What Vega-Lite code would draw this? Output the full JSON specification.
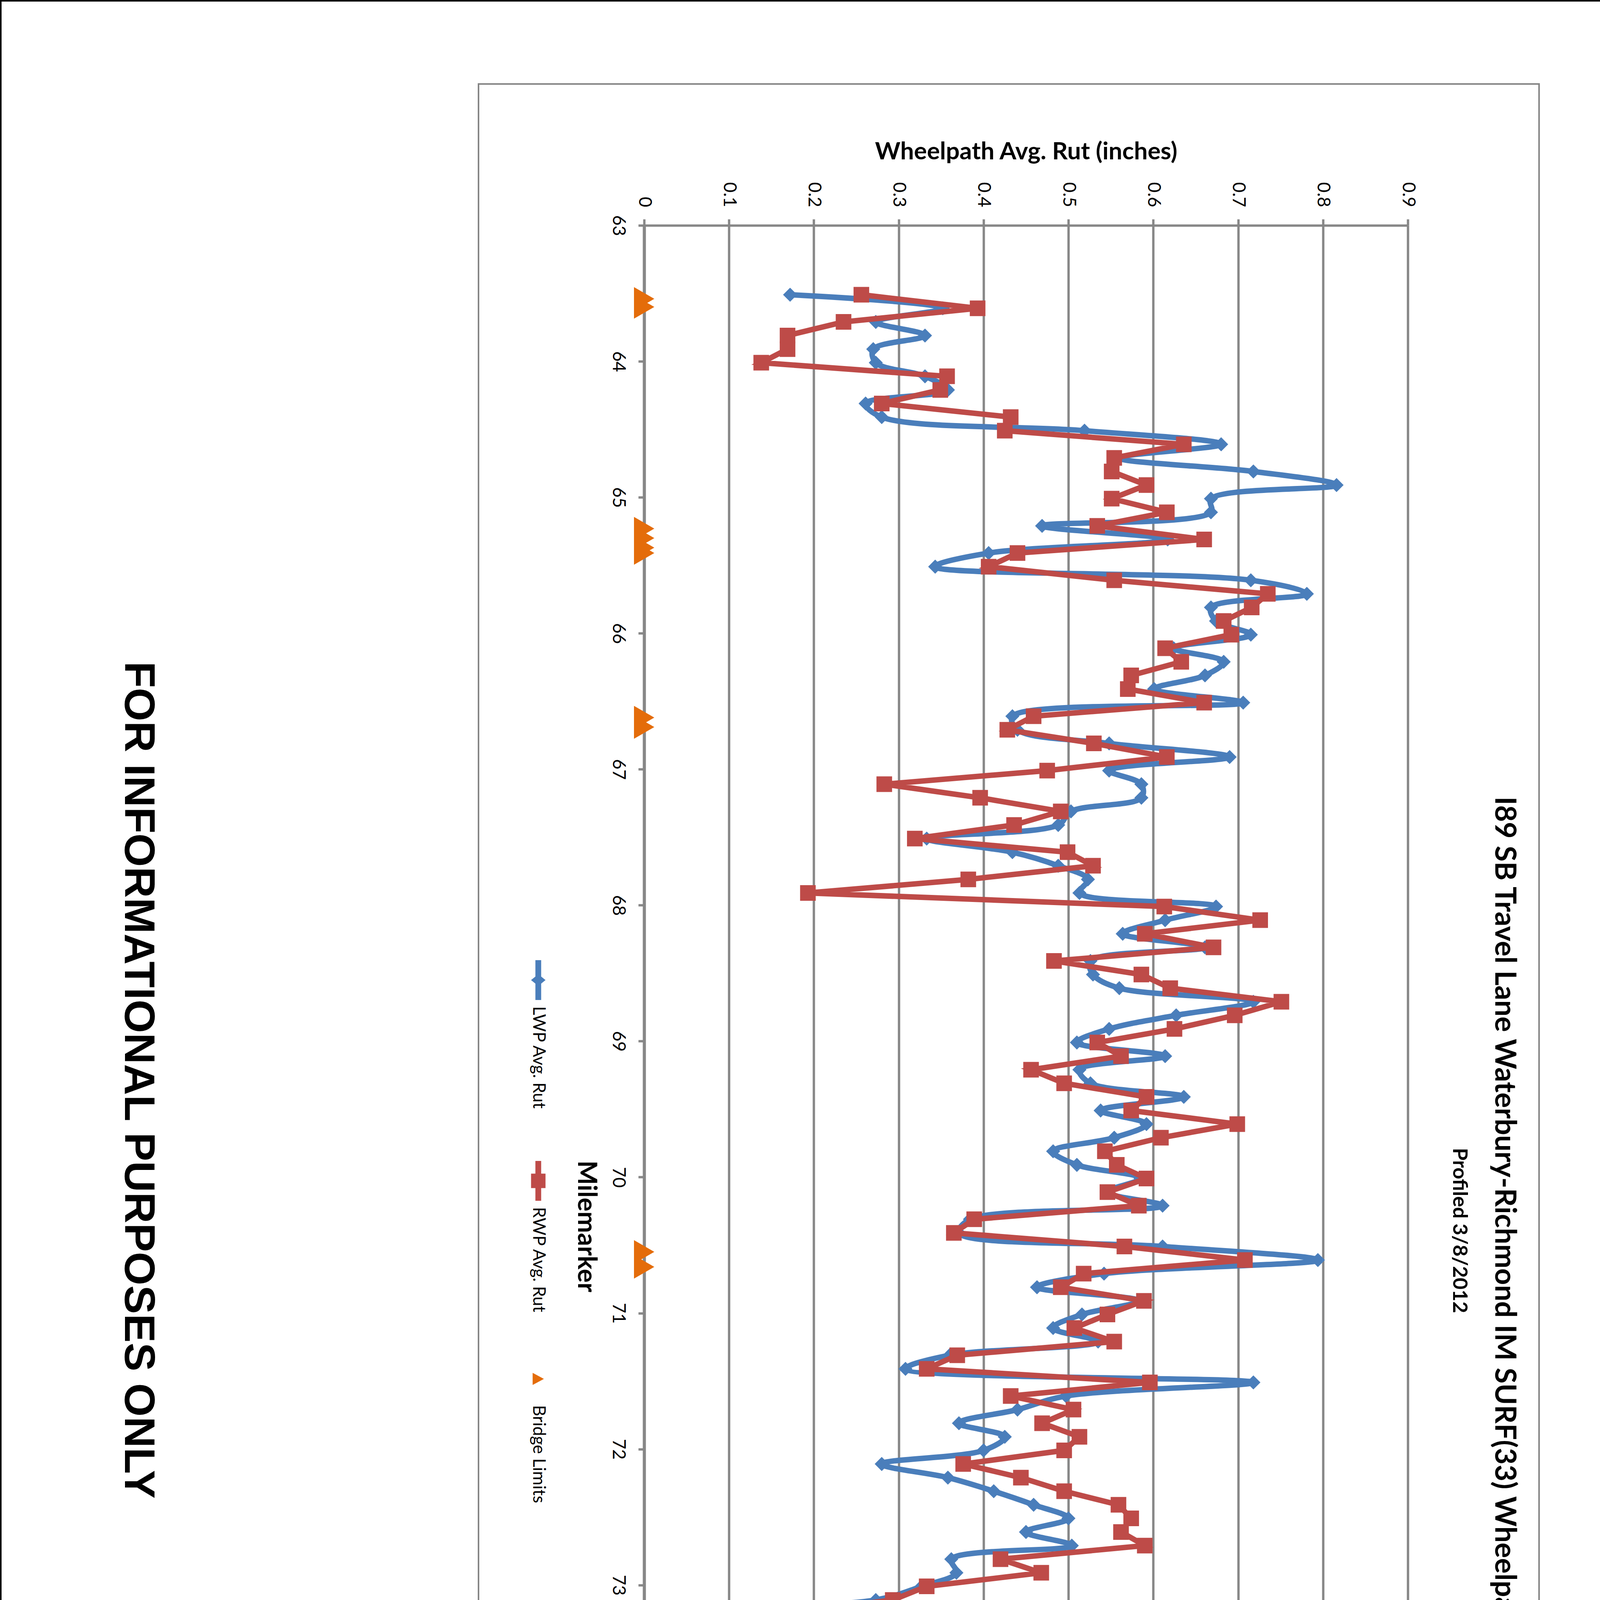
{
  "$schema": "https://vega.github.io/schema/vega-lite/v6.json",
  "width": 1955,
  "height": 5569,
  "autosize": {"type": "none"},
  "padding": {"left": 1649, "top": 577, "right": 596, "bottom": 254},
  "background": "white",
  "config": {"view": {"stroke": null}},
  "datasets": {
    "ruts": [
      {"mile":63.51,"lwp":0.172,"rwp":0.256},{"mile":63.61,"lwp":0.352,"rwp":0.393},{"mile":63.71,"lwp":0.273,"rwp":0.235},{"mile":63.81,"lwp":0.331,"rwp":0.169},{"mile":63.91,"lwp":0.270,"rwp":0.169},
      {"mile":64.01,"lwp":0.273,"rwp":0.138},{"mile":64.11,"lwp":0.331,"rwp":0.357},{"mile":64.21,"lwp":0.358,"rwp":0.349},{"mile":64.31,"lwp":0.261,"rwp":0.280},{"mile":64.41,"lwp":0.280,"rwp":0.432},
      {"mile":64.51,"lwp":0.519,"rwp":0.425},{"mile":64.61,"lwp":0.680,"rwp":0.636},{"mile":64.71,"lwp":0.560,"rwp":0.554},{"mile":64.81,"lwp":0.718,"rwp":0.551},{"mile":64.91,"lwp":0.816,"rwp":0.592},
      {"mile":65.01,"lwp":0.668,"rwp":0.551},{"mile":65.11,"lwp":0.668,"rwp":0.616},{"mile":65.21,"lwp":0.469,"rwp":0.534},{"mile":65.31,"lwp":0.617,"rwp":0.660},{"mile":65.41,"lwp":0.406,"rwp":0.440},
      {"mile":65.51,"lwp":0.343,"rwp":0.406},{"mile":65.61,"lwp":0.715,"rwp":0.554},{"mile":65.71,"lwp":0.781,"rwp":0.735},{"mile":65.81,"lwp":0.668,"rwp":0.716},{"mile":65.91,"lwp":0.674,"rwp":0.683},
      {"mile":66.01,"lwp":0.715,"rwp":0.692},{"mile":66.11,"lwp":0.624,"rwp":0.614},{"mile":66.21,"lwp":0.683,"rwp":0.633},{"mile":66.31,"lwp":0.661,"rwp":0.574},{"mile":66.41,"lwp":0.601,"rwp":0.570},
      {"mile":66.51,"lwp":0.706,"rwp":0.660},{"mile":66.61,"lwp":0.434,"rwp":0.459},{"mile":66.71,"lwp":0.440,"rwp":0.428},{"mile":66.81,"lwp":0.548,"rwp":0.530},{"mile":66.91,"lwp":0.690,"rwp":0.616},
      {"mile":67.01,"lwp":0.548,"rwp":0.475},{"mile":67.11,"lwp":0.586,"rwp":0.283},{"mile":67.21,"lwp":0.586,"rwp":0.396},{"mile":67.31,"lwp":0.503,"rwp":0.491},{"mile":67.41,"lwp":0.488,"rwp":0.436},
      {"mile":67.51,"lwp":0.333,"rwp":0.319},{"mile":67.61,"lwp":0.434,"rwp":0.499},{"mile":67.71,"lwp":0.488,"rwp":0.529},{"mile":67.81,"lwp":0.523,"rwp":0.382},{"mile":67.91,"lwp":0.513,"rwp":0.193},
      {"mile":68.01,"lwp":0.674,"rwp":0.613},{"mile":68.11,"lwp":0.614,"rwp":0.726},{"mile":68.21,"lwp":0.564,"rwp":0.590},{"mile":68.31,"lwp":0.661,"rwp":0.671},{"mile":68.41,"lwp":0.526,"rwp":0.483},
      {"mile":68.51,"lwp":0.529,"rwp":0.586},{"mile":68.61,"lwp":0.560,"rwp":0.620},{"mile":68.71,"lwp":0.718,"rwp":0.751},{"mile":68.81,"lwp":0.627,"rwp":0.696},{"mile":68.91,"lwp":0.548,"rwp":0.625},
      {"mile":69.01,"lwp":0.510,"rwp":0.534},{"mile":69.11,"lwp":0.614,"rwp":0.562},{"mile":69.21,"lwp":0.513,"rwp":0.456},{"mile":69.31,"lwp":0.526,"rwp":0.495},{"mile":69.41,"lwp":0.636,"rwp":0.592},
      {"mile":69.51,"lwp":0.538,"rwp":0.574},{"mile":69.61,"lwp":0.592,"rwp":0.699},{"mile":69.71,"lwp":0.554,"rwp":0.609},{"mile":69.81,"lwp":0.482,"rwp":0.543},{"mile":69.91,"lwp":0.510,"rwp":0.557},
      {"mile":70.01,"lwp":0.585,"rwp":0.592},{"mile":70.11,"lwp":0.545,"rwp":0.546},{"mile":70.21,"lwp":0.611,"rwp":0.583},{"mile":70.31,"lwp":0.384,"rwp":0.389},{"mile":70.41,"lwp":0.371,"rwp":0.365},
      {"mile":70.51,"lwp":0.611,"rwp":0.566},{"mile":70.61,"lwp":0.794,"rwp":0.708},{"mile":70.71,"lwp":0.542,"rwp":0.518},{"mile":70.81,"lwp":0.463,"rwp":0.491},{"mile":70.91,"lwp":0.583,"rwp":0.589},
      {"mile":71.01,"lwp":0.516,"rwp":0.546},{"mile":71.11,"lwp":0.482,"rwp":0.507},{"mile":71.21,"lwp":0.535,"rwp":0.554},{"mile":71.31,"lwp":0.360,"rwp":0.369},{"mile":71.41,"lwp":0.308,"rwp":0.333},
      {"mile":71.51,"lwp":0.718,"rwp":0.596},{"mile":71.61,"lwp":0.497,"rwp":0.432},{"mile":71.71,"lwp":0.440,"rwp":0.506},{"mile":71.81,"lwp":0.371,"rwp":0.469},{"mile":71.91,"lwp":0.425,"rwp":0.513},
      {"mile":72.01,"lwp":0.400,"rwp":0.495},{"mile":72.11,"lwp":0.280,"rwp":0.376},{"mile":72.21,"lwp":0.358,"rwp":0.444},{"mile":72.31,"lwp":0.412,"rwp":0.495},{"mile":72.41,"lwp":0.459,"rwp":0.559},
      {"mile":72.51,"lwp":0.500,"rwp":0.574},{"mile":72.61,"lwp":0.450,"rwp":0.562},{"mile":72.71,"lwp":0.504,"rwp":0.590},{"mile":72.81,"lwp":0.362,"rwp":0.420},{"mile":72.91,"lwp":0.368,"rwp":0.468},
      {"mile":73.01,"lwp":0.327,"rwp":0.333},{"mile":73.11,"lwp":0.273,"rwp":0.293},{"mile":73.21,"lwp":0.052,"rwp":0.165},{"mile":73.31,"lwp":0.097,"rwp":0.341},{"mile":73.41,"lwp":0.175,"rwp":0.293},
      {"mile":73.51,"lwp":0.513,"rwp":0.542},{"mile":73.61,"lwp":0.396,"rwp":0.432},{"mile":73.71,"lwp":0.365,"rwp":0.408},{"mile":73.81,"lwp":0.412,"rwp":0.471},{"mile":73.91,"lwp":0.377,"rwp":0.465},
      {"mile":74.01,"lwp":0.343,"rwp":0.502},{"mile":74.11,"lwp":0.371,"rwp":0.502},{"mile":74.21,"lwp":0.330,"rwp":0.389},{"mile":74.31,"lwp":0.264,"rwp":0.364},{"mile":74.41,"lwp":0.340,"rwp":0.330},
      {"mile":74.51,"lwp":0.381,"rwp":0.420},{"mile":74.61,"lwp":0.459,"rwp":0.514},{"mile":74.71,"lwp":0.349,"rwp":0.432},{"mile":74.81,"lwp":0.343,"rwp":0.377},{"mile":74.91,"lwp":0.349,"rwp":0.436},
      {"mile":75.01,"lwp":0.362,"rwp":0.487},{"mile":75.11,"lwp":0.286,"rwp":0.488},{"mile":75.21,"lwp":0.341,"rwp":0.514},{"mile":75.31,"lwp":0.404,"rwp":0.495},{"mile":75.41,"lwp":0.437,"rwp":0.530},
      {"mile":75.51,"lwp":0.463,"rwp":0.586},{"mile":75.61,"lwp":0.441,"rwp":0.554},{"mile":75.71,"lwp":0.384,"rwp":0.495},{"mile":75.81,"lwp":0.425,"rwp":0.453},{"mile":75.91,"lwp":0.333,"rwp":0.487},
      {"mile":76.01,"lwp":0.302,"rwp":0.502},{"mile":76.11,"lwp":0.182,"rwp":0.413},{"mile":76.21,"lwp":0.216,"rwp":0.417},{"mile":76.31,"lwp":0.242,"rwp":0.310},{"mile":76.41,"lwp":0.191,"rwp":0.259},
      {"mile":76.51,"lwp":0.207,"rwp":0.293},{"mile":76.61,"lwp":0.333,"rwp":0.365},{"mile":76.71,"lwp":0.299,"rwp":0.398},{"mile":76.81,"lwp":0.425,"rwp":0.432},{"mile":76.91,"lwp":0.400,"rwp":0.444},
      {"mile":77.01,"lwp":0.523,"rwp":0.574},{"mile":77.11,"lwp":0.384,"rwp":0.436},{"mile":77.21,"lwp":0.409,"rwp":0.340},{"mile":77.31,"lwp":0.415,"rwp":0.401},{"mile":77.41,"lwp":0.450,"rwp":0.518},
      {"mile":77.51,"lwp":0.510,"rwp":0.518},{"mile":77.61,"lwp":0.450,"rwp":0.495},{"mile":77.71,"lwp":0.513,"rwp":0.465},{"mile":77.81,"lwp":0.504,"rwp":0.510},{"mile":77.91,"lwp":0.393,"rwp":0.428},
      {"mile":78.01,"lwp":0.220,"rwp":0.275},{"mile":78.11,"lwp":0.327,"rwp":0.247},{"mile":78.21,"lwp":0.384,"rwp":0.314},{"mile":78.31,"lwp":0.362,"rwp":0.369},{"mile":78.41,"lwp":0.409,"rwp":0.459},
      {"mile":78.51,"lwp":0.226,"rwp":0.293},{"mile":78.61,"lwp":0.248,"rwp":0.439},{"mile":78.71,"lwp":0.343,"rwp":0.655},{"mile":78.81,"lwp":0.403,"rwp":0.432},{"mile":78.91,"lwp":0.172,"rwp":0.271}
    ],
    "bridges": [
      {"mile":63.54},{"mile":63.60},{"mile":65.23},{"mile":65.30},{"mile":65.37},{"mile":65.41},{"mile":66.62},{"mile":66.69},
      {"mile":70.55},{"mile":70.66},{"mile":73.565},{"mile":73.60},{"mile":73.92},{"mile":73.98},{"mile":77.07},{"mile":77.11},
      {"mile":78.35},{"mile":78.41},{"mile":78.46},{"mile":78.52},{"mile":78.64},{"mile":78.77},{"mile":78.95},{"mile":78.985}
    ]
  },
  "layer": [
    {
      "encoding": {
        "y": {
          "field": "mile", "type": "quantitative",
          "scale": {"domain": [63, 79], "reverse": true, "nice": false, "zero": false},
          "axis": {
            "orient": "left", "title": "Milemarker",
            "titleFont": "Lato", "titleFontSize": 66, "titleFontWeight": "bold", "titleColor": "black",
            "titleAngle": 90, "titleBaseline": "top", "titleAlign": "center", "titlePadding": 28, "titleY": 2562,
            "values": [63,64,65,66,67,68,69,70,71,72,73,74,75,76,77,78,79],
            "format": "d",
            "labelFont": "Lato", "labelFontSize": 46, "labelColor": "black", "labelAngle": 90, "labelAlign": "center", "labelBaseline": "top",
            "labelPadding": 30, "labelOverlap": false, "labelFlush": false,
            "tickSize": 15, "tickWidth": 6, "tickColor": "#878787",
            "domainColor": "#878787", "domainWidth": 8,
            "grid": false
          }
        }
      },
      "layer": [
        {
          "data": {"name": "ruts"},
          "mark": {"type": "line", "color": "#4A7EBB", "strokeWidth": 14, "interpolate": "catmull-rom"},
          "encoding": {
            "x": {
              "field": "lwp", "type": "quantitative", "title": "Wheelpath Avg. Rut (inches)",
              "scale": {"domain": [0, 0.9], "nice": false, "zero": false},
              "axis": {
                "orient": "top", "title": "Wheelpath Avg. Rut (inches)",
                "titleFont": "Lato", "titleFontSize": 62, "titleFontWeight": "bold", "titleColor": "black", "titlePadding": 45,
                "values": [0, 0.1, 0.2, 0.3, 0.4, 0.5, 0.6, 0.7, 0.8, 0.9], "format": "~g",
                "labelFont": "Lato", "labelFontSize": 46, "labelColor": "black", "labelAngle": 90, "labelAlign": "right", "labelBaseline": "middle",
                "labelPadding": 31, "labelOverlap": false, "labelFlush": false,
                "tickSize": 16, "tickWidth": 6, "tickColor": "#878787",
                "domainColor": "#878787", "domainWidth": 6,
                "grid": true, "gridColor": "#878787", "gridWidth": 6
              }
            },
            "order": {"field": "mile", "type": "quantitative"}
          }
        },
        {
          "data": {"name": "ruts"},
          "mark": {"type": "point", "filled": true, "opacity": 1, "size": 1300, "strokeWidth": 0},
          "encoding": {
            "x": {"field": "lwp", "type": "quantitative", "title": "Wheelpath Avg. Rut (inches)"},
            "color": {
              "datum": "LWP Avg. Rut", "type": "nominal",
              "scale": {"domain": ["LWP Avg. Rut", "RWP Avg. Rut", "Bridge Limits"], "range": ["#4A7EBB", "#BE4B48", "#E46C0A"]},
              "legend": null
            },
            "shape": {
              "datum": "LWP Avg. Rut", "type": "nominal",
              "scale": {"domain": ["LWP Avg. Rut", "RWP Avg. Rut", "Bridge Limits"], "range": ["diamond", "square", "triangle-right"]},
              "legend": null
            }
          }
        },
        {
          "data": {"name": "ruts"},
          "mark": {"type": "line", "color": "#BE4B48", "strokeWidth": 14, "interpolate": "linear"},
          "encoding": {
            "x": {"field": "rwp", "type": "quantitative", "title": "Wheelpath Avg. Rut (inches)"},
            "order": {"field": "mile", "type": "quantitative"}
          }
        },
        {
          "data": {"name": "ruts"},
          "mark": {"type": "point", "filled": true, "opacity": 1, "size": 1600, "strokeWidth": 0},
          "encoding": {
            "x": {"field": "rwp", "type": "quantitative", "title": "Wheelpath Avg. Rut (inches)"},
            "color": {"datum": "RWP Avg. Rut", "type": "nominal", "legend": null},
            "shape": {"datum": "RWP Avg. Rut", "type": "nominal", "legend": null}
          }
        },
        {
          "data": {"name": "bridges"},
          "mark": {"type": "point", "filled": true, "opacity": 1, "size": 3600, "strokeWidth": 0},
          "encoding": {
            "x": {"datum": 0, "type": "quantitative", "title": "Wheelpath Avg. Rut (inches)"},
            "color": {"datum": "Bridge Limits", "type": "nominal", "legend": null},
            "shape": {"datum": "Bridge Limits", "type": "nominal", "legend": null}
          }
        }
      ]
    },
    {
      "data": {"values": [{}]},
      "layer": [
        {
          "mark": {"type": "rect", "filled": false, "color": "black", "strokeWidth": 4},
          "encoding": {
            "x": {"datum": 2, "type": "quantitative", "scale": {"domain": [1649, 3604], "nice": false, "zero": false}, "axis": null},
            "x2": {"datum": 4197},
            "y": {"datum": 2, "type": "quantitative", "scale": {"domain": [577, 6146], "reverse": true, "nice": false, "zero": false}, "axis": null},
            "y2": {"datum": 6392}
          }
        },
        {
          "mark": {"type": "rect", "filled": false, "color": "#868686", "strokeWidth": 4},
          "encoding": {
            "x": {"datum": 1225, "type": "quantitative", "axis": null}, "x2": {"datum": 3940},
            "y": {"datum": 215, "type": "quantitative", "axis": null}, "y2": {"datum": 6237}
          }
        },
        {
          "mark": {"type": "point", "filled": true, "opacity": 0},
          "encoding": {
            "x": {"datum": 2500, "type": "quantitative", "axis": null},
            "y": {"datum": 3000, "type": "quantitative", "axis": null},
            "color": {
              "datum": "LWP Avg. Rut", "type": "nominal",
              "scale": {"domain": ["LWP Avg. Rut", "RWP Avg. Rut", "Bridge Limits"], "range": ["#4A7EBB", "#BE4B48", "#E46C0A"]},
              "legend": {
                "title": null, "orient": "none", "legendX": -308, "legendY": 1895, "direction": "vertical", "padding": 0,
                "symbolSize": 5476, "symbolStrokeWidth": 0, "symbolOffset": 0, "symbolOpacity": 1,
                "labelFont": "Lato", "labelFontSize": 44, "labelColor": "black", "labelLimit": 0, "labelOffset": -37,
                "rowPadding": 130,
                "encoding": {
                  "labels": {"angle": {"value": 90}, "align": {"value": "left"}, "baseline": {"value": "middle"}, "dx": {"value": 67}}
                }
              }
            },
            "shape": {
              "datum": "LWP Avg. Rut", "type": "nominal",
              "scale": {"domain": ["LWP Avg. Rut", "RWP Avg. Rut", "Bridge Limits"], "range": ["M-0.2,-1.38L0.2,-1.38L0.2,-0.24L0.5,0L0.2,0.24L0.2,1.38L-0.2,1.38L-0.2,0.24L-0.5,0L-0.2,-0.24Z", "M-0.2,-1.38L0.2,-1.38L0.2,-0.5L0.5,-0.5L0.5,0.5L0.2,0.5L0.2,1.38L-0.2,1.38L-0.2,0.5L-0.5,0.5L-0.5,-0.5L-0.2,-0.5Z", "M-0.39,-0.42L0.39,0L-0.39,0.42Z"]},
              "legend": null
            }
          }
        },
        {
          "mark": {"type": "point", "filled": true, "opacity": 0},
          "encoding": {
            "x": {"datum": 2500, "type": "quantitative", "axis": null},
            "y": {"datum": 3000, "type": "quantitative", "axis": null},
            "color": {
              "datum": "RWP Avg. Rut", "type": "nominal",
              "legend": {
                "title": null, "orient": "none", "legendX": -308, "legendY": 1895, "direction": "vertical", "padding": 0,
                "symbolSize": 5476, "symbolStrokeWidth": 0, "symbolOffset": 0, "symbolOpacity": 1,
                "labelFont": "Lato", "labelFontSize": 44, "labelColor": "black", "labelLimit": 0, "labelOffset": -37,
                "rowPadding": 130,
                "encoding": {
                  "labels": {"angle": {"value": 90}, "align": {"value": "left"}, "baseline": {"value": "middle"}, "dx": {"value": 67}}
                }
              }
            },
            "shape": {"datum": "RWP Avg. Rut", "type": "nominal", "legend": null}
          }
        },
        {
          "mark": {"type": "point", "filled": true, "opacity": 0},
          "encoding": {
            "x": {"datum": 2500, "type": "quantitative", "axis": null},
            "y": {"datum": 3000, "type": "quantitative", "axis": null},
            "color": {
              "datum": "Bridge Limits", "type": "nominal",
              "legend": {
                "title": null, "orient": "none", "legendX": -308, "legendY": 1895, "direction": "vertical", "padding": 0,
                "symbolSize": 5476, "symbolStrokeWidth": 0, "symbolOffset": 0, "symbolOpacity": 1,
                "labelFont": "Lato", "labelFontSize": 44, "labelColor": "black", "labelLimit": 0, "labelOffset": -37,
                "rowPadding": 130,
                "encoding": {
                  "labels": {"angle": {"value": 90}, "align": {"value": "left"}, "baseline": {"value": "middle"}, "dx": {"value": 67}}
                }
              }
            },
            "shape": {"datum": "Bridge Limits", "type": "nominal", "legend": null}
          }
        },
        {
          "mark": {"type": "rect", "filled": false, "color": "black", "strokeWidth": 5},
          "encoding": {
            "x": {"datum": 2, "type": "quantitative", "axis": null}, "x2": {"datum": 384},
            "y": {"datum": 4324, "type": "quantitative", "axis": null}, "y2": {"datum": 6392}
          }
        },
        {
          "mark": {"type": "rule", "color": "black", "strokeWidth": 5},
          "encoding": {
            "x": {"datum": 2, "type": "quantitative", "axis": null}, "x2": {"datum": 384},
            "y": {"datum": 4940, "type": "quantitative", "axis": null}
          }
        },
        {
          "mark": {"type": "rule", "color": "black", "strokeWidth": 5},
          "encoding": {
            "x": {"datum": 226, "type": "quantitative", "axis": null},
            "y": {"datum": 4940, "type": "quantitative", "axis": null}, "y2": {"datum": 6392}
          }
        },
        {
          "mark": {"type": "text", "text": "I89 SB Travel Lane Waterbury-Richmond IM SURF(33) Wheelpath Ruts", "angle": 90, "align": "center", "baseline": "middle", "font": "Lato", "fontWeight": "bold", "fontSize": 74, "color": "black"},
          "encoding": {"x": {"datum": 3850, "type": "quantitative", "axis": null}, "y": {"datum": 3200, "type": "quantitative", "axis": null}}
        },
        {
          "mark": {"type": "text", "text": "Profiled 3/8/2012", "angle": 90, "align": "center", "baseline": "middle", "font": "Lato", "fontWeight": "bold", "fontSize": 52, "color": "black"},
          "encoding": {"x": {"datum": 3736, "type": "quantitative", "axis": null}, "y": {"datum": 3150, "type": "quantitative", "axis": null}}
        },
        {
          "mark": {"type": "text", "text": "FOR  INFORMATIONAL  PURPOSES  ONLY", "angle": 90, "align": "center", "baseline": "middle", "font": "Liberation Sans", "fontWeight": "bold", "fontSize": 110, "color": "black"},
          "encoding": {"x": {"datum": 353, "type": "quantitative", "axis": null}, "y": {"datum": 2765, "type": "quantitative", "axis": null}}
        },
        {
          "mark": {"type": "text", "text": ["SOUTHBOUND", "RUTTING", "DATA", "INFORMATION"], "lineHeight": 72, "angle": 90, "align": "center", "baseline": "middle", "font": "Liberation Sans", "fontWeight": "bold", "fontSize": 65, "color": "black"},
          "encoding": {"x": {"datum": 195, "type": "quantitative", "axis": null}, "y": {"datum": 4631, "type": "quantitative", "axis": null}}
        },
        {
          "mark": {"type": "text", "text": "PROJECT NAME:", "angle": 90, "align": "left", "baseline": "middle", "font": "Liberation Sans", "fontSize": 33, "color": "black"},
          "encoding": {"x": {"datum": 343, "type": "quantitative", "axis": null}, "y": {"datum": 4976, "type": "quantitative", "axis": null}}
        },
        {
          "mark": {"type": "text", "text": "WATERBURY-RICHMOND", "angle": 90, "align": "left", "baseline": "middle", "font": "Liberation Sans", "fontSize": 55, "color": "black"},
          "encoding": {"x": {"datum": 342, "type": "quantitative", "axis": null}, "y": {"datum": 5317, "type": "quantitative", "axis": null}}
        },
        {
          "mark": {"type": "text", "text": "PROJECT NUMBER:", "angle": 90, "align": "left", "baseline": "middle", "font": "Liberation Sans", "fontSize": 33, "color": "black"},
          "encoding": {"x": {"datum": 271, "type": "quantitative", "axis": null}, "y": {"datum": 4976, "type": "quantitative", "axis": null}}
        },
        {
          "mark": {"type": "text", "text": "IM SURF (33)", "angle": 90, "align": "left", "baseline": "middle", "font": "Liberation Sans", "fontSize": 55, "color": "black"},
          "encoding": {"x": {"datum": 272, "type": "quantitative", "axis": null}, "y": {"datum": 5465, "type": "quantitative", "axis": null}}
        },
        {
          "mark": {"type": "text", "text": "FILE NAME: ...12AI78\\...12AI78.dgn", "angle": 90, "align": "left", "baseline": "middle", "font": "Liberation Sans", "fontSize": 33, "color": "black"},
          "encoding": {"x": {"datum": 185, "type": "quantitative", "axis": null}, "y": {"datum": 4976, "type": "quantitative", "axis": null}}
        },
        {
          "mark": {"type": "text", "text": "PROJECT LEADER:  FOWLER", "angle": 90, "align": "left", "baseline": "middle", "font": "Liberation Sans", "fontSize": 33, "color": "black"},
          "encoding": {"x": {"datum": 137, "type": "quantitative", "axis": null}, "y": {"datum": 4976, "type": "quantitative", "axis": null}}
        },
        {
          "mark": {"type": "text", "text": "DESIGNED BY:  PVT.MGT.", "angle": 90, "align": "left", "baseline": "middle", "font": "Liberation Sans", "fontSize": 33, "color": "black"},
          "encoding": {"x": {"datum": 86, "type": "quantitative", "axis": null}, "y": {"datum": 4976, "type": "quantitative", "axis": null}}
        },
        {
          "mark": {"type": "text", "text": "IPARM FILE NAME:  12AI78_16.i", "angle": 90, "align": "left", "baseline": "middle", "font": "Liberation Sans", "fontSize": 33, "color": "black"},
          "encoding": {"x": {"datum": 38, "type": "quantitative", "axis": null}, "y": {"datum": 4976, "type": "quantitative", "axis": null}}
        },
        {
          "mark": {"type": "text", "text": "PLOT DATE:  10-APR-2014 14:17", "angle": 90, "align": "left", "baseline": "middle", "font": "Liberation Sans", "fontSize": 33, "color": "black"},
          "encoding": {"x": {"datum": 185, "type": "quantitative", "axis": null}, "y": {"datum": 5833, "type": "quantitative", "axis": null}}
        },
        {
          "mark": {"type": "text", "text": "DRAWN BY:  PVT.MGT.", "angle": 90, "align": "left", "baseline": "middle", "font": "Liberation Sans", "fontSize": 33, "color": "black"},
          "encoding": {"x": {"datum": 137, "type": "quantitative", "axis": null}, "y": {"datum": 5833, "type": "quantitative", "axis": null}}
        },
        {
          "mark": {"type": "text", "text": "CHECKED BY:  PAVT MGMT", "angle": 90, "align": "left", "baseline": "middle", "font": "Liberation Sans", "fontSize": 33, "color": "black"},
          "encoding": {"x": {"datum": 86, "type": "quantitative", "axis": null}, "y": {"datum": 5833, "type": "quantitative", "axis": null}}
        },
        {
          "mark": {"type": "text", "text": "SHEET   16   OF   19", "angle": 90, "align": "left", "baseline": "middle", "font": "Liberation Sans", "fontSize": 33, "color": "black"},
          "encoding": {"x": {"datum": 38, "type": "quantitative", "axis": null}, "y": {"datum": 5833, "type": "quantitative", "axis": null}}
        }
      ]
    }
  ],
  "resolve": {"scale": {"x": "independent", "y": "independent", "color": "independent", "shape": "independent"}}
}
